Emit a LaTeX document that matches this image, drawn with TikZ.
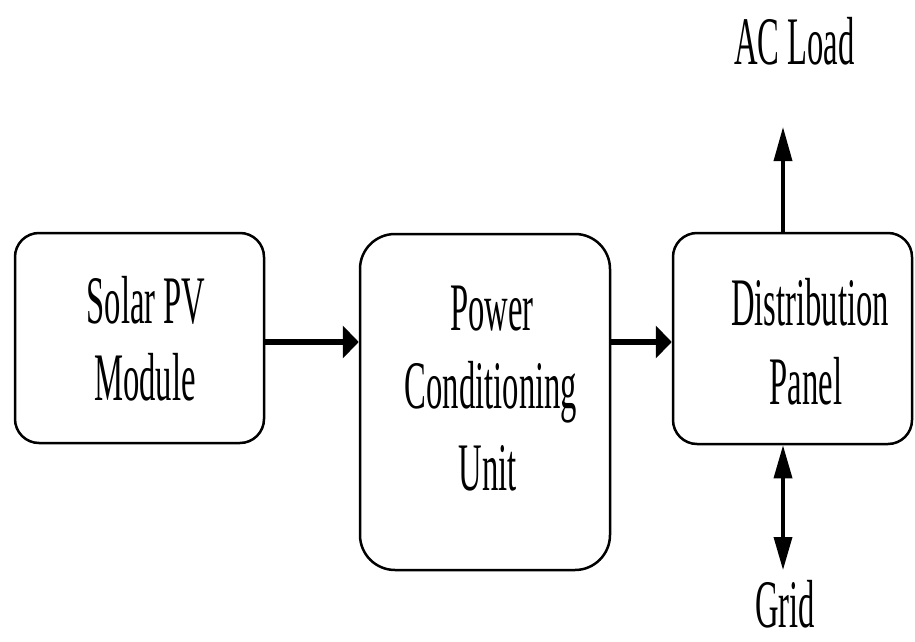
\documentclass[tikz,border=0pt]{standalone}
\usepackage{fontspec}
\setmainfont{Liberation Serif}
\usepackage{graphicx}
\usetikzlibrary{arrows.meta}
\newcommand{\sqz}[1]{\scalebox{0.48}[1]{#1}}
\begin{document}
\begin{tikzpicture}[x=1pt,y=-1pt,
  blk/.style={draw=black, line width=2.5pt, rectangle, inner sep=0pt, fill=none},
  lbl/.style={anchor=base, inner sep=0pt, font=\fontsize{68}{79}\selectfont},
  harr/.style={line width=5.5pt, -{Triangle[length=16pt,width=32pt]}},
  varr/.style={line width=3.5pt, -{Triangle[length=34pt,width=18pt]}},
  vdarr/.style={line width=3.5pt, {Triangle[length=33pt,width=18pt]}-{Triangle[length=33pt,width=18pt]}}]
\useasboundingbox (0,0) rectangle (915,642);
% boxes
\node[blk, rounded corners=24pt, minimum width=249pt, minimum height=210pt] (b1) at (139.5,338) {};
\node[blk, rounded corners=35pt, minimum width=250pt, minimum height=336pt] (b2) at (485,402) {};
\node[blk, rounded corners=24pt, minimum width=239pt, minimum height=211pt] (b3) at (792.5,338.5) {};
% labels
\node[lbl] (t1a) at (146,323) {\sqz{Solar PV}};
\node[lbl] (t1b) at (145,400) {\sqz{Module}};
\node[lbl] (t2a) at (492,330) {\sqz{Power}};
\node[lbl] (t2b) at (491,408) {\sqz{Conditioning}};
\node[lbl] (t2c) at (488,490) {\sqz{Unit}};
\node[lbl] (t3a) at (810,325) {\sqz{Distribution}};
\node[lbl] (t3b) at (806,404) {\sqz{Panel}};
\node[lbl] (ac) at (794.5,65) {\sqz{AC Load}};
\node[lbl] (grid) at (785,627) {\sqz{Grid}};
% connectors
\coordinate (ly) at (0,342);
\coordinate (acl) at (783,127);
\coordinate (gr) at (783,570);
\draw[harr] (b1.east |- ly) -- (b2.west |- ly);
\draw[harr] (b2.east |- ly) -- (b3.west |- ly);
\draw[varr] (acl |- b3.north) -- (acl);
\draw[vdarr] (gr |- b3.south) -- (gr);
\end{tikzpicture}
\end{document}
